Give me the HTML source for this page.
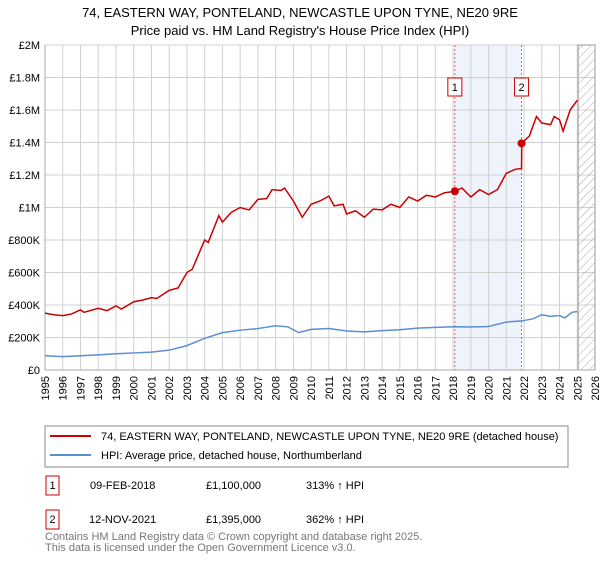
<!DOCTYPE html>
<html><head><meta charset="utf-8"><style>
body{margin:0;background:#fff;}
svg text{font-family:"Liberation Sans","DejaVu Sans",sans-serif;}
</style></head><body>
<svg width="600" height="560" viewBox="0 0 600 560" xmlns="http://www.w3.org/2000/svg">
<text x="300" y="17" text-anchor="middle" font-size="13">74, EASTERN WAY, PONTELAND, NEWCASTLE UPON TYNE, NE20 9RE</text>
<text x="300" y="35" text-anchor="middle" font-size="13">Price paid vs. HM Land Registry's House Price Index (HPI)</text>
<g id="plot"></g>
<g>
<rect x="45" y="426" width="523" height="41" fill="#fff" stroke="#888"/>
<line x1="50" y1="436" x2="91" y2="436" stroke="#cc0000" stroke-width="2"/>
<text x="101" y="440" font-size="11">74, EASTERN WAY, PONTELAND, NEWCASTLE UPON TYNE, NE20 9RE (detached house)</text>
<line x1="50" y1="455" x2="91" y2="455" stroke="#5b8fd4" stroke-width="2"/>
<text x="101" y="459" font-size="11">HPI: Average price, detached house, Northumberland</text>
</g>
<g font-size="11">
<rect x="46" y="476" width="13" height="19" fill="#fff" stroke="#cc0000"/>
<text x="52.5" y="489" text-anchor="middle">1</text>
<text x="90" y="489">09-FEB-2018</text><text x="206" y="489">£1,100,000</text><text x="306" y="489">313% ↑ HPI</text>
<rect x="46" y="510" width="13" height="19" fill="#fff" stroke="#cc0000"/>
<text x="52.5" y="523" text-anchor="middle">2</text>
<text x="89" y="523">12-NOV-2021</text><text x="206" y="523">£1,395,000</text><text x="306" y="523">362% ↑ HPI</text>
</g>
<text x="45" y="540" font-size="11" fill="#777">Contains HM Land Registry data © Crown copyright and database right 2025.</text>
<text x="45" y="551" font-size="11" fill="#777">This data is licensed under the Open Government Licence v3.0.</text>
</svg>
<script>
const yTicks=[0,200,400,600,800,1000,1200,1400,1600,1800,2000];
const yTickLabels=["£0","£200K","£400K","£600K","£800K","£1M","£1.2M","£1.4M","£1.6M","£1.8M","£2M"];
const xYears=[1995,1996,1997,1998,1999,2000,2001,2002,2003,2004,2005,2006,2007,2008,2009,2010,2011,2012,2013,2014,2015,2016,2017,2018,2019,2020,2021,2022,2023,2024,2025,2026];
const redX=[1995,1995.5,1996,1996.5,1997,1997.2,1998,1998.5,1999,1999.3,2000,2000.5,2001,2001.3,2002,2002.5,2003,2003.3,2004,2004.2,2004.8,2005,2005.5,2006,2006.5,2007,2007.5,2007.8,2008.3,2008.5,2009,2009.5,2010,2010.5,2011,2011.3,2011.8,2012,2012.5,2013,2013.5,2014,2014.5,2015,2015.5,2016,2016.5,2017,2017.5,2018.1,2018.5,2019,2019.5,2020,2020.5,2021,2021.5,2021.86,2021.87,2022.3,2022.7,2023,2023.5,2023.7,2024,2024.2,2024.6,2025];
const redY=[350,340,335,345,370,355,380,365,395,375,420,430,445,440,490,505,600,620,800,785,950,910,970,1000,985,1050,1055,1110,1105,1120,1040,940,1020,1040,1070,1010,1020,960,980,940,990,985,1020,1000,1065,1040,1075,1065,1090,1100,1120,1065,1110,1080,1110,1210,1235,1240,1395,1440,1560,1520,1510,1560,1540,1470,1600,1660];
const blueX=[1995,1996,1997,1998,1999,2000,2001,2002,2003,2004,2005,2006,2007,2008,2008.7,2009.3,2010,2011,2012,2013,2014,2015,2016,2017,2018.1,2019,2020,2021,2021.86,2022.5,2023,2023.5,2024,2024.3,2024.7,2025];
const blueY=[88,82,88,93,100,105,110,122,150,195,230,245,255,272,265,230,250,255,240,235,242,248,258,262,266,265,268,295,302,315,340,330,335,320,355,360];
const saleX=[2018.1,2021.86];
const saleY=[1100,1395];
const saleLabels=["1","2"];
const L=45,R=595,T=45,B=370;
const xs=y=>L+(y-1995)/(2026-1995)*(R-L);
const ys=v=>B-v/2000*(B-T);
const NS="http://www.w3.org/2000/svg";
const g=document.getElementById('plot');
function mk(t,a,p){const e=document.createElementNS(NS,t);for(const k in a)e.setAttribute(k,a[k]);(p||g).appendChild(e);return e;}
mk('rect',{x:L,y:T,width:R-L,height:B-T,fill:'#fff'});
const sh=mk('rect',{x:xs(saleX[0]),y:T,width:xs(saleX[1])-xs(saleX[0]),height:B-T,fill:'#eef3fc'});

const defs=mk('defs',{});
const pat=mk('pattern',{id:'h',width:6,height:6,patternUnits:'userSpaceOnUse',patternTransform:'rotate(45)'},defs);
mk('line',{x1:0,y1:0,x2:0,y2:6,stroke:'#aaa','stroke-width':1},pat);
xYears.forEach(y=>{const l=mk('line',{x1:xs(y),y1:T,x2:xs(y),y2:B,stroke:'#d0d0d0'});

const t=mk('text',{x:0,y:0,'text-anchor':'end','font-size':11,transform:'translate('+(xs(y)+4)+','+(B+6)+') rotate(-90)'});t.textContent=y;
});
yTicks.forEach((v,i)=>{const l=mk('line',{x1:L,y1:ys(v),x2:R,y2:ys(v),stroke:'#d0d0d0'});

const t=mk('text',{x:L-5,y:ys(v)+4,'text-anchor':'end','font-size':11});t.textContent=yTickLabels[i];
});
const hz=mk('rect',{x:xs(2025.05),y:T,width:R-xs(2025.05),height:B-T,fill:'url(#h)',stroke:'#999'});

mk('line',{x1:L,y1:B,x2:R,y2:B,stroke:'#aaa'});
mk('line',{x1:L,y1:T,x2:L,y2:B,stroke:'#aaa'});
saleX.forEach((x,i)=>{const l=mk('line',{x1:xs(x),y1:T,x2:xs(x),y2:B,stroke:'#e06060','stroke-dasharray':'2,2'});

const r=mk('rect',{x:xs(x)-7,y:78,width:14,height:18,fill:'#fff',stroke:'#cc0000'});

const t=mk('text',{x:xs(x),y:91,'text-anchor':'middle','font-size':11});t.textContent=saleLabels[i];});
function line(X,Y,c,n){const p=mk('polyline',{points:X.map((x,i)=>xs(x)+','+ys(Y[i])).join(' '),fill:'none',stroke:c,'stroke-width':1.5});
}
line(blueX,blueY,'#5b8fd4','hpi-line');
line(redX,redY,'#cc0000','price-line');
saleX.forEach((x,i)=>{const c=mk('circle',{cx:xs(x),cy:ys(saleY[i]),r:4,fill:'#cc0000'});
});
</script>
</body></html>
